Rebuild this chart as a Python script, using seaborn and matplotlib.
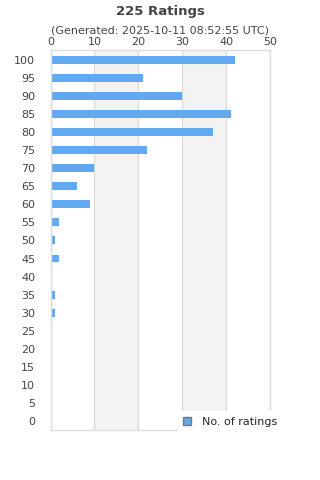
import seaborn as sns
import matplotlib.pyplot as plt
import pandas as pd

# rating buckets (top to bottom) and number of ratings in each
ratings = ["100", "95", "90", "85", "80", "75", "70", "65", "60", "55", "50",
           "45", "40", "35", "30", "25", "20", "15", "10", "5", "0"]
counts = [42, 21, 30, 41, 37, 22, 10, 6, 9, 2, 1, 2, 0, 1, 1, 0, 0, 0, 0, 0, 0]
x_ticks = [0, 10, 20, 30, 40, 50]

df = pd.DataFrame({"rating": ratings, "count": counts})

sns.set_theme(style="white")
plt.rcParams["font.family"] = ["DejaVu Sans"]

fig = plt.figure(figsize=(3.2, 4.8), dpi=100)
ax = fig.add_axes([0.158, 0.104, 0.686, 0.792])

# alternating grey bands
for lo in x_ticks[1::2][:-1]:
    ax.axvspan(lo, lo + 10, color="#f3f3f3", lw=0, zorder=0)

sns.barplot(data=df, y="rating", x="count", orient="h", order=ratings,
            color="#63a9f1", saturation=1, width=0.44, ax=ax,
            label="No. of ratings", linewidth=0, zorder=2)

ax.set_xlim(0, 50)
ax.set_ylim(20.5, -0.55)
ax.set_xticks(x_ticks)
ax.xaxis.tick_top()
ax.grid(axis="x", color="#dddddd", linewidth=1, zorder=1)
ax.set_axisbelow(True)
ax.tick_params(axis="x", length=0, pad=2, labelsize=8, labelcolor="#444444")
ax.tick_params(axis="y", length=0, pad=11, labelsize=8, labelcolor="#444444")
ax.set_xlabel("")
ax.set_ylabel("")
for s in ax.spines.values():
    s.set_color("#dddddd")
    s.set_linewidth(1)

fig.text(0.5, 0.977, "225 Ratings", ha="center", va="center",
         fontsize=9.5, fontweight="bold", color="#444444")
fig.text(0.5, 0.937, "(Generated: 2025-10-11 08:52:55 UTC)", ha="center",
         va="center", fontsize=8, color="#444444")

if ax.get_legend():
    ax.get_legend().remove()
handles, labels = ax.get_legend_handles_labels()
leg = fig.legend(handles, labels, loc="center", bbox_to_anchor=(0.72, 0.121),
                 frameon=True, fontsize=8, handlelength=0.7, handleheight=0.7,
                 handletextpad=1.0, borderpad=0.5, fancybox=False)
leg.get_frame().set_edgecolor("white")
leg.get_frame().set_facecolor("white")
leg.get_frame().set_alpha(1)
for h in leg.legend_handles:
    h.set_edgecolor("#777777")
    h.set_linewidth(1)

fig.savefig("out.png", dpi=100)
